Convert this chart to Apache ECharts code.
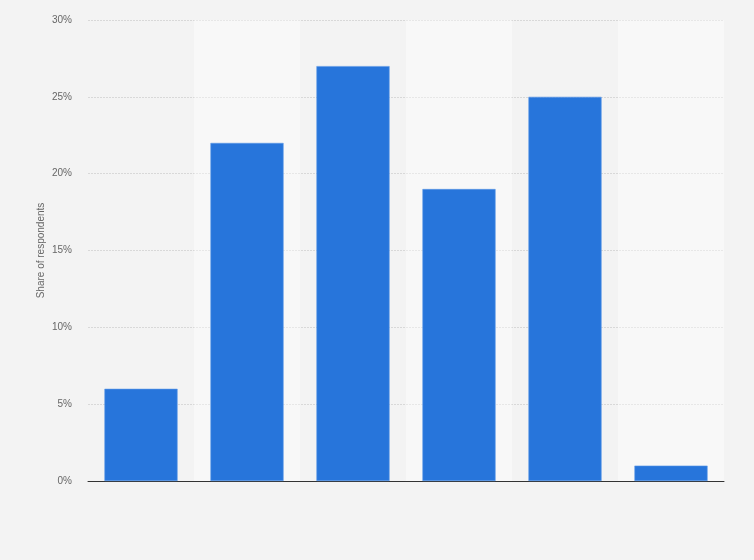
<!DOCTYPE html>
<html>
<head>
<meta charset="utf-8">
<script src="https://cdn.jsdelivr.net/npm/echarts@6/dist/echarts.min.js"></script>
<style>
  html, body { margin: 0; padding: 0; background: #f3f3f3; }
  #bar-chart { width: 754px; height: 560px; }
</style>
</head>
<body>
<div id="bar-chart"></div>
<script>
// data
var categories = ['A', 'B', 'C', 'D', 'E', 'F'];
var shareValues = [6, 22, 27, 19, 25, 1];
var yTicks = [0, 5, 10, 15, 20, 25, 30];

var myChart = echarts.init(document.getElementById('bar-chart'));

var option = {
    backgroundColor: '#f3f3f3',
    animation: false,
    grid: {
        left: 88,
        right: 30,
        top: 20,
        bottom: 79
    },
    xAxis: {
        type: 'category',
        data: categories,
        axisTick: { show: false },
        axisLabel: { show: false },
        axisLine: { lineStyle: { color: '#333', width: 1 } },
        splitArea: {
            show: true,
            areaStyle: { color: ['rgba(0,0,0,0)', 'rgba(255,255,255,0.4)'] }
        }
    },
    yAxis: {
        type: 'value',
        min: yTicks[0],
        max: yTicks[yTicks.length - 1],
        interval: 5,
        name: 'Share of respondents',
        nameLocation: 'middle',
        nameGap: 42,
        nameMoveOverlap: false,
        nameTextStyle: { color: '#666', fontSize: 10, fontFamily: 'Arial, Liberation Sans, sans-serif' },
        axisLine: { show: false },
        axisTick: { show: false },
        axisLabel: {
            formatter: '{value}%',
            color: '#666',
            fontSize: 10,
            margin: 16,
            fontFamily: 'Arial, Liberation Sans, sans-serif'
        },
        splitLine: { lineStyle: { color: '#d8d8d8', type: [2, 1] } }
    },
    series: [
        {
            name: 'Share of respondents',
            type: 'bar',
            data: shareValues,
            barWidth: '69%',
            itemStyle: {
                color: '#2775db',
                borderColor: '#5b97e6',
                borderWidth: 0.6
            }
        }
    ]
};

myChart.setOption(option);
</script>
</body>
</html>
